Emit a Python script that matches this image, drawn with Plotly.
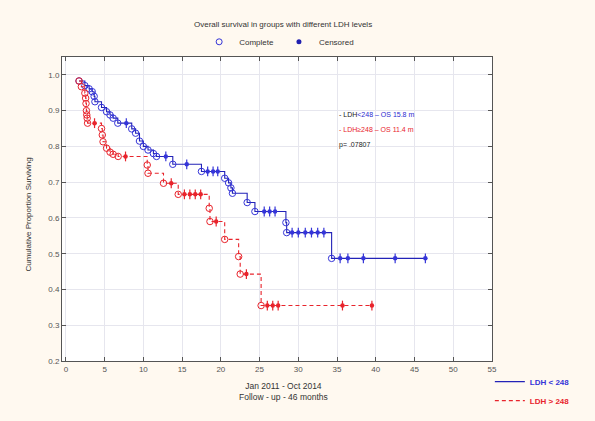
import plotly.graph_objects as go

# ---- data ----
blue_event_t = [1.7, 2.45, 3.0, 3.4, 3.65, 3.75, 4.6, 5.25, 5.7, 6.1, 6.7, 8.5, 9.0, 9.5, 10.0,
                10.6, 11.3, 11.7, 13.8, 17.5, 20.5, 21.0, 21.3, 21.5, 23.4, 24.4, 28.4, 28.5, 34.3]
blue_event_s = [0.983, 0.970, 0.961, 0.953, 0.940, 0.925, 0.909, 0.897, 0.888, 0.879, 0.865, 0.849,
                0.837, 0.815, 0.800, 0.790, 0.780, 0.772, 0.750, 0.730, 0.711, 0.698, 0.684, 0.669,
                0.643, 0.618, 0.587, 0.559, 0.487]
blue_censor_t = [7.8, 12.9, 15.6, 18.3, 19.0, 19.6, 25.6, 26.3, 27.0, 29.2, 30.0, 30.9, 31.7,
                 32.5, 33.3, 35.4, 36.4, 38.4, 42.5, 46.4]

red_event_t = [1.7, 2.0, 2.45, 2.55, 2.6, 2.65, 2.7, 2.75, 2.8, 4.6, 4.7, 4.8, 5.25, 5.7, 6.1,
               6.75, 10.5, 10.6, 12.6, 14.5, 18.5, 18.6, 20.5, 22.3, 22.5, 25.2]
red_event_s = [0.983, 0.967, 0.949, 0.935, 0.920, 0.900, 0.888, 0.879, 0.865, 0.850, 0.832,
               0.813, 0.795, 0.784, 0.778, 0.772, 0.748, 0.725, 0.697, 0.666, 0.627, 0.590,
               0.540, 0.492, 0.443, 0.355]
red_censor_t = [3.7, 7.7, 13.6, 15.3, 16.0, 16.7, 17.4, 19.4, 23.3, 26.0, 26.7, 27.4, 35.7, 39.5]

x_ticks = list(range(0, 60, 5))
y_ticks = [0.2, 0.3, 0.4, 0.5, 0.6, 0.7, 0.8, 0.9, 1.0]

title_text = "Overall survival in groups with different LDH levels"
group_names = ["LDH < 248", "LDH > 248"]
note_lines = ["- LDH<span style='color:#2a2ad0'><248 \u2013 OS 15.8 m</span>",
              "- LDH\u2265248 \u2013 OS 11.4 m",
              "p= .07807"]
xlabel = "Jan 2011 - Oct 2014<br>Follow - up - 46 months"
ylabel = "Cumulative Proportion Surviving"

BLUE_L = "#2323b8"
BLUE_M = "#3535d8"
RED = "#e8242c"
FONT = "Liberation Sans, Arial, sans-serif"


def step_path(ts, ss, t_end):
    xs, ys = [ts[0]], [ss[0]]
    for i in range(1, len(ts)):
        xs += [ts[i], ts[i]]
        ys += [ss[i - 1], ss[i]]
    xs.append(t_end)
    ys.append(ss[-1])
    return xs, ys


def surv_at(ts, ss, t):
    val = ss[0]
    for ti, si in zip(ts, ss):
        if ti <= t:
            val = si
    return val


fig = go.Figure()

groups = [
    (blue_event_t, blue_event_s, blue_censor_t, BLUE_L, BLUE_M, "solid", group_names[0]),
    (red_event_t, red_event_s, red_censor_t, RED, RED, "4px,3px", group_names[1]),
]
for et, es, ct, lc, mc, dash, nm in groups:
    t_end = max(max(ct), max(et))
    px, py = step_path(et, es, t_end)
    fig.add_trace(go.Scatter(x=px, y=py, mode="lines", line=dict(color=lc, width=1.1, dash=dash),
                             name=f"<span style='color:{mc}'><b>{nm}</b></span>", legend="legend2",
                             hoverinfo="skip"))
    fig.add_trace(go.Scatter(x=et, y=es, mode="markers", showlegend=False,
                             marker=dict(symbol="circle-open", size=6.5, color=mc, line=dict(width=1))))
    cy = [surv_at(et, es, t) for t in ct]
    fig.add_trace(go.Scatter(x=ct, y=cy, mode="markers", showlegend=False,
                             marker=dict(symbol="circle", size=4.5, color=mc)))
    fig.add_trace(go.Scatter(x=ct, y=cy, mode="markers", showlegend=False,
                             marker=dict(symbol="line-ns", size=7, color=mc,
                                         line=dict(width=1.2, color=mc))))

# top legend (Complete / Censored)
fig.add_trace(go.Scatter(x=[None], y=[None], mode="markers", name="Complete", legend="legend",
                         marker=dict(symbol="circle-open", size=6, color=BLUE_M)))
fig.add_trace(go.Scatter(x=[None], y=[None], mode="markers", name="Censored", legend="legend",
                         marker=dict(symbol="circle", size=5, color="#2020b0")))

axis_common = dict(showline=True, linecolor="#555555", linewidth=1, mirror="ticks",
                   ticks="inside", ticklen=4, tickcolor="#555555",
                   showgrid=True, gridcolor="#e6e6ee", gridwidth=1, zeroline=False,
                   tickfont=dict(family=FONT, size=8, color="#555555"))

fig.update_layout(
    width=595, height=421,
    margin=dict(l=62, r=103, t=57, b=60, autoexpand=False),
    paper_bgcolor="#fff9f0", plot_bgcolor="#ffffff",
    font=dict(family=FONT, size=8, color="#333333"),
    xaxis=dict(range=[-0.5, 55], tickvals=x_ticks, ticktext=[str(v) for v in x_ticks], **axis_common),
    yaxis=dict(range=[0.2, 1.05], tickvals=y_ticks, ticktext=[f"{v:.1f}" for v in y_ticks], **axis_common),
    legend=dict(orientation="h", x=0.505, y=1.05, xanchor="center", yanchor="middle",
                bgcolor="rgba(0,0,0,0)", font=dict(family=FONT, size=8, color="#333333"),
                itemwidth=30),
    legend2=dict(x=0.995, y=-0.02, xanchor="left", yanchor="top", bgcolor="rgba(0,0,0,0)",
                 font=dict(family=FONT, size=8), itemwidth=30, tracegroupgap=0),
    showlegend=True,
)

fig.add_annotation(text=title_text, x=0.514, y=1.128, xref="paper", yref="paper",
                   showarrow=False, font=dict(family=FONT, size=8, color="#333333"))
fig.add_annotation(text=xlabel, x=0.514, y=-0.1, xref="paper", yref="paper",
                   showarrow=False, yanchor="middle", font=dict(family=FONT, size=8.5, color="#333333"))
fig.add_annotation(text=ylabel, x=-0.093, y=0.48, xref="paper", yref="paper", textangle=-90,
                   showarrow=False, font=dict(family=FONT, size=8, color="#333333"))

note_colors = ["#222222", RED, "#222222"]
for i, (txt, col) in enumerate(zip(note_lines, note_colors)):
    fig.add_annotation(text=txt, x=0.64, y=0.83 - i * 0.05, xref="paper", yref="paper",
                       xanchor="left", showarrow=False, font=dict(family=FONT, size=7, color=col))

fig.write_html("out.html")
